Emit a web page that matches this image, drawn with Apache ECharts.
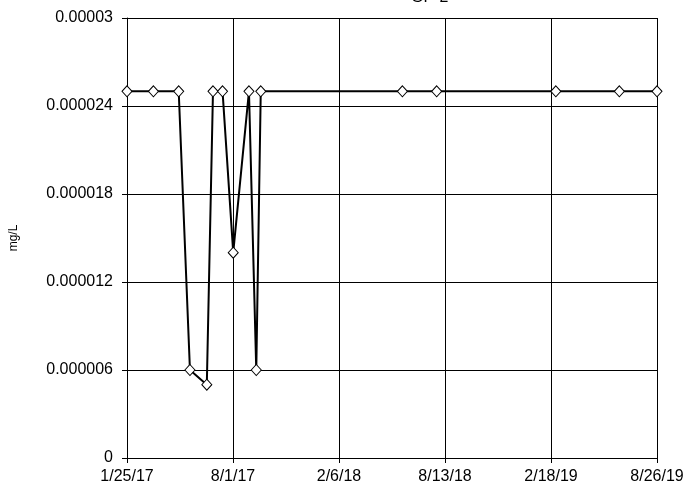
<!DOCTYPE html>
<html>
<head>
<meta charset="utf-8">
<script src="https://cdn.jsdelivr.net/npm/echarts@6/dist/echarts.min.js"></script>
<style>html,body{margin:0;padding:0;background:#fff;}#chart{width:687px;height:488px;}</style>
</head>
<body>
<div id="chart"></div>
<script>
var titleText = 'GP-2';
var yAxisName = 'mg/L';
var sampleDates = ['2017-01-25','2017-03-13','2017-04-27','2017-05-17','2017-06-16','2017-06-27','2017-07-14','2017-08-02','2017-08-30','2017-09-12','2017-09-20','2018-05-30','2018-07-30','2019-02-27','2019-06-20','2019-08-26'];
var sampleValues = [0.000025,0.000025,0.000025,0.000006,0.000005,0.000025,0.000025,0.000014,0.000025,0.000006,0.000025,0.000025,0.000025,0.000025,0.000025,0.000025];
var xTickLabels = ['1/25/17','8/1/17','2/6/18','8/13/18','2/18/19','8/26/19'];
var yTickLabels = ['0','0.000006','0.000012','0.000018','0.000024','0.00003'];

var startDate = '2017-01-25';
var endDate = '2019-08-26';
function dayNum(s){var p=s.split('-');return Date.UTC(+p[0],+p[1]-1,+p[2])/86400000;}
var d0 = dayNum(startDate);
var xMax = dayNum(endDate) - d0;
var xInterval = xMax / (xTickLabels.length - 1);
var yStep = 0.000006;
var yMax = 0.00003;

var data = sampleDates.map(function(d,i){return [dayNum(d)-d0, sampleValues[i]];});

var chart = echarts.init(document.getElementById('chart'), null, {renderer:'canvas'});
var font = 'Arial, "Liberation Sans", sans-serif';
chart.setOption({
  animation:false,
  backgroundColor:'#fff',
  title:{text:titleText,left:406,top:-15,textStyle:{fontFamily:font,fontSize:16,fontWeight:'normal',color:'#000'}},
  grid:{left:127,right:30,top:18,bottom:30,containLabel:false},
  xAxis:{type:'value',min:0,max:xMax,interval:xInterval,
    axisLine:{lineStyle:{color:'#000',width:1}},
    axisTick:{show:true,inside:false,length:5,lineStyle:{color:'#000'}},
    axisLabel:{fontFamily:font,fontSize:16,color:'#000',margin:11,
      formatter:function(v){return xTickLabels[Math.round(v/xInterval)];}},
    splitLine:{show:true,lineStyle:{color:'#000',width:1}}},
  yAxis:{type:'value',min:0,max:yMax,interval:yStep,
    name:yAxisName,nameLocation:'middle',nameGap:107,nameRotate:90,
    nameTextStyle:{fontFamily:font,fontSize:12,color:'#000'},
    axisLine:{show:true,lineStyle:{color:'#000',width:1}},
    axisTick:{show:true,inside:false,length:5,lineStyle:{color:'#000'}},
    axisLabel:{fontFamily:font,fontSize:16,color:'#000',margin:14,
      formatter:function(v){return yTickLabels[Math.round(v/yStep)];}},
    splitLine:{show:true,lineStyle:{color:'#000',width:1}}},
  series:[{type:'line',data:data,symbol:'diamond',symbolSize:[10,11],showAllSymbol:true,
    lineStyle:{color:'#000',width:2},
    itemStyle:{color:'#fff',borderColor:'#000',borderWidth:1},
    z:5}]
});
</script>
</body>
</html>
